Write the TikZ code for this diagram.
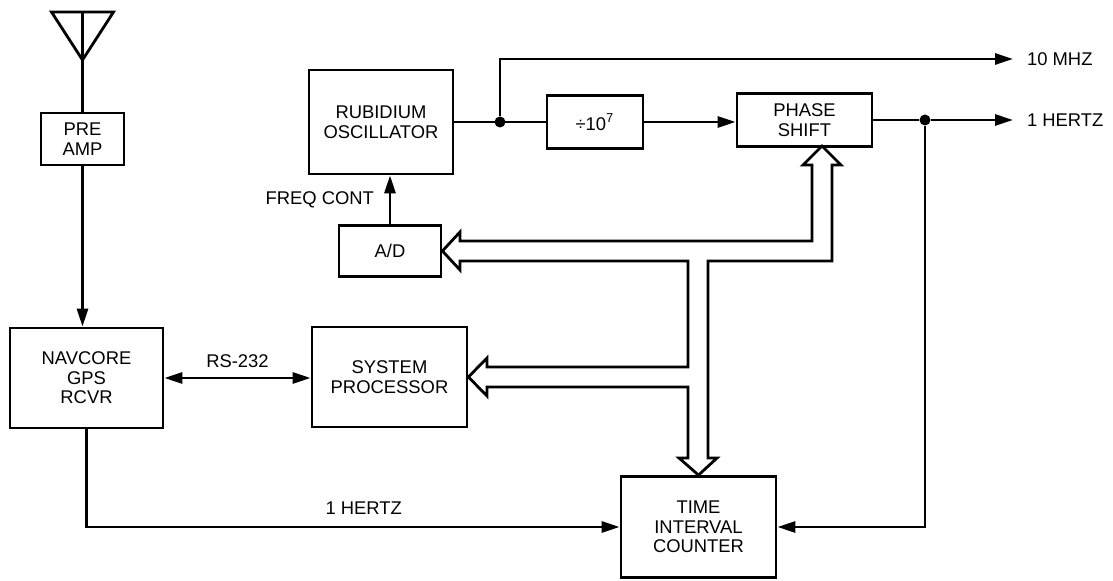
\documentclass[tikz,border=0pt]{standalone}
\usepackage{fontspec}
\setmainfont{Liberation Sans}
\usetikzlibrary{arrows.meta}

\tikzset{
  blk/.style={draw, line width=1.4pt, align=center, inner sep=0pt, font=\fontsize{9.2}{9.8}\selectfont},
  sig/.style={line width=1.4pt},
  arr/.style={sig, -{Triangle[length=9pt,width=5.5pt]}},
  dbl/.style={sig, {Triangle[length=9pt,width=5.5pt]}-{Triangle[length=9pt,width=5.5pt]}},
  bus/.style={line width=1.4pt, line join=miter},
  lbl/.style={font=\fontsize{9.2}{9.8}\selectfont},
  dot/.style={circle, fill, inner sep=0pt, minimum size=5.5pt},
}

\begin{document}
\begin{tikzpicture}[x=0.5pt, y=-0.5pt]
\useasboundingbox (0,0) rectangle (1113,581);

% blocks
\node[blk, minimum width=41.5pt, minimum height=26pt] (pre) at (82.5,139) {PRE\\AMP};
\node[blk, minimum width=76.5pt, minimum height=50pt] (nav) at (86.5,378) {NAVCORE\\GPS\\RCVR};
\node[blk, minimum width=72pt, minimum height=52pt] (rub) at (381,122) {RUBIDIUM\\OSCILLATOR};
\node[blk, minimum width=48pt, minimum height=26.5pt] (div) at (595,122) {÷10\textsuperscript{7}};
\node[blk, minimum width=67.5pt, minimum height=26.5pt] (ps) at (804.5,120) {PHASE\\SHIFT};
\node[blk, minimum width=51pt, minimum height=25.5pt] (ad) at (390,251) {A/D};
\node[blk, minimum width=77.5pt, minimum height=50pt] (sp) at (389.5,377) {SYSTEM\\PROCESSOR};
\node[blk, minimum width=77.5pt, minimum height=50.5pt] (tic) at (698.5,527) {TIME\\INTERVAL\\COUNTER};

% junctions and outputs
\node[dot] (j1) at (500,122) {};
\node[dot] (j2) at (925,120) {};
\coordinate (out10) at (1013,59);
\coordinate (out1) at (1013,120);
\coordinate (ant) at (82.5,12);

% antenna
\draw[sig] (ant) ++(-31,0) -- ++(62,0) -- (82.5,60) -- cycle;
\draw[sig] (ant) -- (pre.north);

% signal lines
\draw[arr] (pre.south) -- (pre.south |- nav.north);
\draw[dbl] (nav.east) -- node[lbl, above=1pt] {RS-232} (nav.east -| sp.west);
\draw[arr] (nav.south) |- node[lbl, pos=0.76, above=2pt] {1 HERTZ} (tic.west);
\draw[arr] (ad.north) -- node[lbl, left=4pt] {FREQ CONT} (ad.north |- rub.south);
\draw[sig] (rub.east) -- (div.west);
\draw[arr] (div.east) -- (div.east -| ps.west);
\draw[arr] (j1) |- node[lbl, pos=1, right=3pt] {10 MHZ} (out10);
\draw[sig] (ps.east) -- (j2);
\draw[arr] (j2) -- node[lbl, pos=1, right=3pt] {1 HERTZ} (out1);
\draw[arr] (j2) |- (tic.east);

% data bus
\draw[bus] (822,146) -- (841,165) -- (832,165) -- (832,261) -- (708,261) -- (708,458)
  -- (717,458) -- (tic.north) -- (679,458) -- (688,458) -- (688,387) -- (487,387)
  -- (487,396) -- (sp.east) -- (487,358) -- (487,367) -- (688,367) -- (688,261)
  -- (460,261) -- (460,270) -- (ad.east) -- (460,232) -- (460,241) -- (812,241)
  -- (812,165) -- (803,165) -- cycle;
\end{tikzpicture}
\end{document}
